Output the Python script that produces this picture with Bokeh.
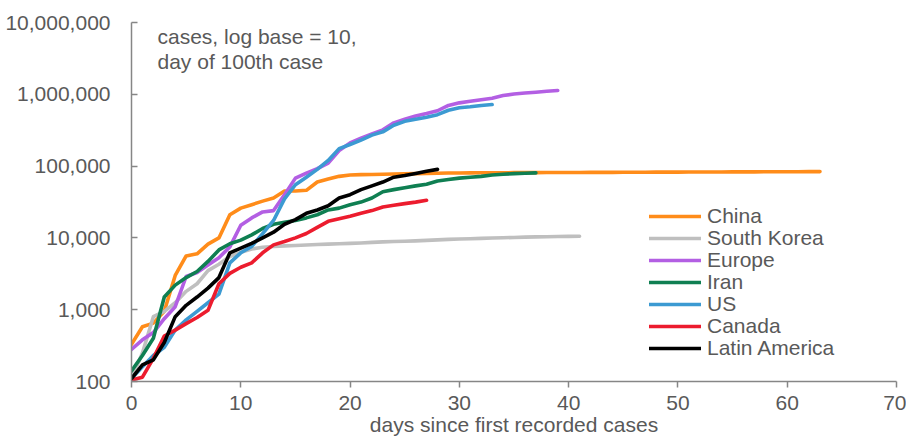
from bokeh.plotting import figure
from bokeh.models import Range1d, FixedTicker, NumeralTickFormatter, Legend, LegendItem, Label
from bokeh.embed import file_html
from bokeh.resources import INLINE

# ---- data ----
china = [330, 580, 650, 950, 3000, 5600, 6000, 8200, 10000, 21000, 26000, 29000, 32500, 36000,
         45000, 45000, 46000, 60000, 66000, 72000, 75000, 76000, 76500, 77000, 77500, 78000,
         78500, 79000, 79500, 80000, 80300, 80500, 80700, 80800, 80900, 81000, 81100, 81200,
         81300, 81400, 81500, 81600, 81700, 81800, 81900, 82000, 82100, 82200, 82300, 82400,
         82500, 82600, 82700, 82800, 82900, 83000, 83100, 83200, 83300, 83400, 83500, 83600,
         83700, 83800]
south_korea = [110, 250, 800, 950, 1250, 1800, 2300, 3500, 4300, 5500, 6300, 7000, 7400, 7600,
               7750, 7850, 7950, 8100, 8200, 8300, 8400, 8500, 8650, 8800, 8900, 9000, 9100,
               9250, 9400, 9550, 9650, 9750, 9850, 9950, 10050, 10150, 10250, 10350, 10400,
               10450, 10500, 10550]
europe = [280, 380, 480, 750, 1100, 2900, 3300, 4200, 5300, 7500, 15000, 19000, 23000, 24000,
          40000, 68000, 80000, 92000, 110000, 165000, 210000, 245000, 280000, 320000, 400000,
          450000, 500000, 540000, 590000, 700000, 760000, 800000, 840000, 880000, 960000,
          1010000, 1040000, 1070000, 1100000, 1130000]
iran = [140, 230, 400, 1500, 2200, 2800, 3400, 4700, 6800, 8300, 9300, 11000, 13500, 15500,
        16500, 17500, 19000, 21000, 24500, 26000, 29000, 31500, 36000, 44000, 47000, 50000,
        53000, 56000, 62000, 65000, 68000, 70000, 72000, 75000, 77000, 78500, 79500, 80500]
us = [110, 160, 230, 300, 520, 720, 950, 1250, 1650, 4500, 6200, 7600, 11500, 17500, 35000,
      55000, 70000, 90000, 120000, 175000, 200000, 230000, 270000, 300000, 370000, 420000,
      450000, 480000, 520000, 600000, 650000, 670000, 700000, 720000]
canada = [105, 115, 210, 430, 520, 640, 780, 980, 2300, 3200, 3900, 4500, 6200, 8000, 8900,
          10000, 11500, 14000, 17000, 18500, 20000, 22000, 24000, 27000, 28500, 30000, 31500,
          33500]
latin_america = [110, 170, 200, 350, 800, 1150, 1500, 2000, 2800, 6200, 7200, 8400, 10000,
                 12000, 15500, 18000, 22000, 24500, 28000, 36000, 40000, 47000, 53000, 60000,
                 70000, 74000, 79000, 85000, 90000]

series_names = ["China", "South Korea", "Europe", "Iran", "US", "Canada", "Latin America"]
series_values = [china, south_korea, europe, iran, us, canada, latin_america]
series_colors = ["#FF8C1A", "#BFBFBF", "#B35FE3", "#0F7F52", "#3C9AD2", "#EC1C2E", "#000000"]

y_ticks = [100, 1000, 10000, 100000, 1000000, 10000000]
x_ticks = [0, 10, 20, 30, 40, 50, 60, 70]

FONT = "Liberation Sans"
TXT = "#595959"
AX = "#868686"

p = figure(width=906, height=438, output_backend="svg", toolbar_location=None,
           y_axis_type="log", x_range=Range1d(0, 70), y_range=Range1d(100, 10000000),
           min_border_left=131, min_border_right=10, min_border_top=22, min_border_bottom=57)
p.outline_line_color = None
p.xgrid.grid_line_color = None
p.ygrid.grid_line_color = None
p.background_fill_color = "white"

items = []
for name, vals, col in zip(series_names, series_values, series_colors):
    days = list(range(len(vals)))
    r = p.line(days, vals, line_color=col, line_width=3.6, line_join="round", line_cap="round")
    items.append(LegendItem(label=name, renderers=[r]))

# axes
p.yaxis.ticker = FixedTicker(ticks=y_ticks)
p.yaxis.formatter = NumeralTickFormatter(format="0,0")
p.yaxis.minor_tick_line_color = None
p.yaxis.major_tick_in = 6
p.yaxis.major_tick_out = 0
p.yaxis.major_label_standoff = 21
p.xaxis.ticker = FixedTicker(ticks=x_ticks)
p.xaxis.minor_tick_line_color = None
p.xaxis.major_tick_in = 0
p.xaxis.major_tick_out = 6
p.xaxis.major_label_standoff = 8
p.xaxis.axis_label = "days since first recorded cases"
p.xaxis.axis_label_standoff = 0
p.xaxis.axis_label_text_font = FONT
p.xaxis.axis_label_text_font_size = "21px"
p.xaxis.axis_label_text_font_style = "normal"
p.xaxis.axis_label_text_color = TXT
for ax in (p.xaxis, p.yaxis):
    ax.axis_line_color = AX
    ax.axis_line_width = 1.5
    ax.major_tick_line_color = AX
    ax.major_tick_line_width = 1.5
    ax.major_label_text_font = FONT
    ax.major_label_text_font_size = "21px"
    ax.major_label_text_color = TXT

# annotation
note = Label(x=2.38, y=10 ** 6.97, text="cases, log base = 10,\nday of 100th case",
             text_font=FONT, text_font_size="21px", text_color=TXT,
             text_baseline="top", text_align="left", text_line_height=1.1)
p.add_layout(note)

# one legend box per entry so the row pitch matches the reference (22px)
for i, item in enumerate(items):
    lg = Legend(items=[item], location=(518, 153 - 22 * i), glyph_width=52, glyph_height=22,
                label_height=22, label_standoff=6, spacing=0, padding=0, margin=0,
                label_text_font=FONT, label_text_font_size="21px", label_text_color=TXT,
                border_line_color=None, background_fill_alpha=0)
    p.add_layout(lg)

open("out.html", "w").write(file_html(p, INLINE))
